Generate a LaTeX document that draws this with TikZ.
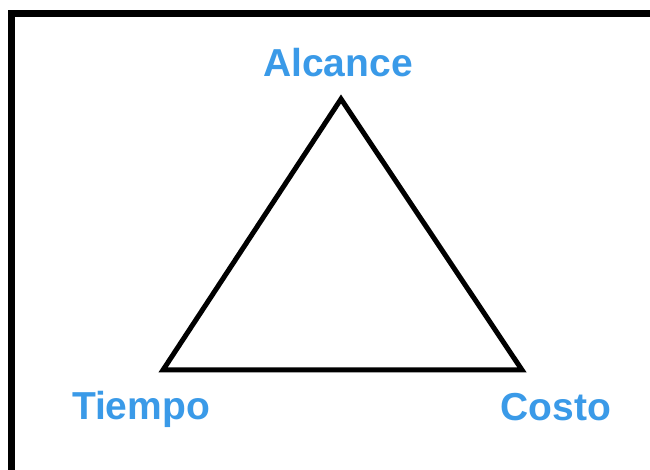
\documentclass[tikz,border=0pt]{standalone}
\usepackage{tikz}
\usepackage{xcolor}
\usepackage{fontspec}
\newfontfamily\labelfont{Liberation Sans}
\usetikzlibrary{positioning}
\definecolor{lblblue}{HTML}{3A9AE8}

\begin{document}
\begin{tikzpicture}[x=1pt,y=1pt,
    lbl/.style={font=\labelfont\bfseries\fontsize{39}{39}\selectfont, text=lblblue, anchor=base, inner sep=0pt}]
    % frame of the picture
    \useasboundingbox (0,0) rectangle (650,470);
    \clip (0,0) rectangle (650,470);
    \fill[white] (0,0) rectangle (650,470);
    \draw[line width=7pt] (11.5,-20) -- (11.5,456.5) -- (670,456.5);

    % corners of the triangle
    \coordinate (top) at (341,371);
    \coordinate (left) at (163,100);
    \coordinate (right) at (522,100);
    \draw[line width=5pt, line join=miter] (top) -- (right) -- (left) -- cycle;

    % labels
    \node[lbl] (alcance) at (338,393) {Alcance};
    \node[lbl] (tiempo) at (141,50) {Tiempo};
    \node[lbl] (costo) at (556,49) {Costo};
\end{tikzpicture}
\end{document}
